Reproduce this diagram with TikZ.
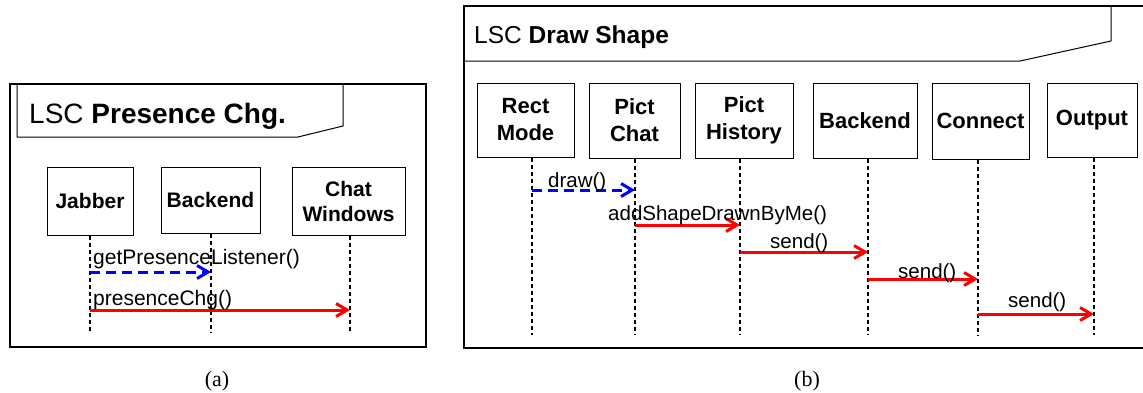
\documentclass[tikz,border=0pt]{standalone}
\usepackage{fontspec}
\setmainfont{Liberation Sans}
\newfontfamily\capfont{Liberation Serif}
\usetikzlibrary{arrows.meta}
\begin{document}
\begin{tikzpicture}[x=1pt,y=-1pt,
  frame/.style={line width=1.3pt},
  tline/.style={line width=1pt},
  lboxa/.style={draw, line width=1pt, font=\fontsize{21}{25}\selectfont\bfseries, align=center, inner sep=0pt},
  lboxb/.style={draw, line width=1pt, font=\fontsize{22}{27}\selectfont\bfseries, align=center, inner sep=0pt},
  lifeline/.style={line width=1.6pt, dash pattern=on 4pt off 3pt},
  call/.style={red, line width=3pt, -{Straight Barb[length=11pt,width=13pt]}},
  dcall/.style={blue, line width=3pt, dash pattern=on 10pt off 6pt, -{Straight Barb[length=11pt,width=13pt]}},
  msga/.style={anchor=base west, inner sep=0pt, font=\fontsize{21}{25}\selectfont},
  msgb/.style={anchor=base west, inner sep=0pt, font=\fontsize{20.5}{24}\selectfont},
  caption/.style={inner sep=0pt, font=\capfont\fontsize{22}{26}\selectfont}
]
\useasboundingbox (0,0) rectangle (1143,392);

% ---------- panel (a) ----------
\draw[frame] (10,84) rectangle (426,347);
\draw[tline] (17,84) -- (17,137) -- (298,137) -- (343,126) -- (343,84);
\node[anchor=base west, inner sep=0pt, font=\fontsize{28}{32}\selectfont] (ta) at (29,123) {LSC \textbf{Presence Chg.}};

\node[lboxa, minimum width=86pt, minimum height=68pt] (jab) at (90,201) {Jabber};
\node[lboxa, minimum width=99pt, minimum height=66pt] (bea) at (210.5,200) {Backend};
\node[lboxa, minimum width=113pt, minimum height=68pt] (chw) at (348.5,201) {Chat\\Windows};

\coordinate (jabE) at (90,331);
\coordinate (beaE) at (211,332);
\coordinate (chwE) at (350,331);
\draw[lifeline] (jab.south -| jabE) -- (jabE);
\draw[lifeline] (bea.south -| beaE) -- (beaE);
\draw[lifeline] (chw.south -| chwE) -- (chwE);

\coordinate (a1s) at (90,272);
\coordinate (a1e) at (211,272);
\coordinate (a2s) at (90,310);
\coordinate (a2e) at (350,310);
\draw[dcall] (a1s) -- (a1e);
\draw[call] (a2s) -- (a2e);
\node[msga] (la1) at (93,264) {getPresenceListener()};
\node[msga] (la2) at (93,305) {presenceChg()};

\node[caption] (capa) at (217,381) {(a)};

% ---------- panel (b) ----------
\draw[frame] (1143,6) -- (464,6) -- (464,348) -- (1143,348);
\draw[tline] (464,61) -- (1020,61) -- (1111,41) -- (1111,6);
\node[anchor=base west, inner sep=0pt, font=\fontsize{24.5}{28}\selectfont] (tb) at (474,43) {LSC \textbf{Draw Shape}};

\node[lboxb, minimum width=97pt, minimum height=74pt] (rm) at (525.5,120) {Rect\\Mode};
\node[lboxb, minimum width=91pt, minimum height=75pt] (pc) at (634.5,120.5) {Pict\\Chat};
\node[lboxb, minimum width=98pt, minimum height=75pt] (ph) at (744,120.5) {Pict\\History};
\node[lboxb, minimum width=104pt, minimum height=75pt] (be) at (865,120.5) {Backend};
\node[lboxb, minimum width=97pt, minimum height=76pt] (co) at (980.5,121) {Connect};
\node[lboxb, minimum width=90pt, minimum height=74pt] (ou) at (1092,120) {Output};

\coordinate (rmE) at (532,335);
\coordinate (pcE) at (635,335);
\coordinate (phE) at (740,335);
\coordinate (beE) at (868,335);
\coordinate (coE) at (978,335);
\coordinate (ouE) at (1094,335);
\draw[lifeline] (rm.south -| rmE) -- (rmE);
\draw[lifeline] (pc.south -| pcE) -- (pcE);
\draw[lifeline] (ph.south -| phE) -- (phE);
\draw[lifeline] (be.south -| beE) -- (beE);
\draw[lifeline] (co.south -| coE) -- (coE);
\draw[lifeline] (ou.south -| ouE) -- (ouE);

\coordinate (b1s) at (532,190);
\coordinate (b1e) at (635,190);
\coordinate (b2s) at (635,225);
\coordinate (b2e) at (740,225);
\coordinate (b3s) at (740,252);
\coordinate (b3e) at (868,252);
\coordinate (b4s) at (868,279);
\coordinate (b4e) at (978,279);
\coordinate (b5s) at (978,314);
\coordinate (b5e) at (1094,314);
\draw[dcall] (b1s) -- (b1e);
\draw[call] (b2s) -- (b2e);
\draw[call] (b3s) -- (b3e);
\draw[call] (b4s) -- (b4e);
\draw[call] (b5s) -- (b5e);
\node[msgb] (lb1) at (548,187) {draw()};
\node[msgb] (lb2) at (608,220) {addShapeDrawnByMe()};
\node[msgb] (lb3) at (770,248) {send()};
\node[msgb] (lb4) at (898,278) {send()};
\node[msgb] (lb5) at (1008,307) {send()};

\node[caption] (capb) at (807,381) {(b)};
\end{tikzpicture}
\end{document}
